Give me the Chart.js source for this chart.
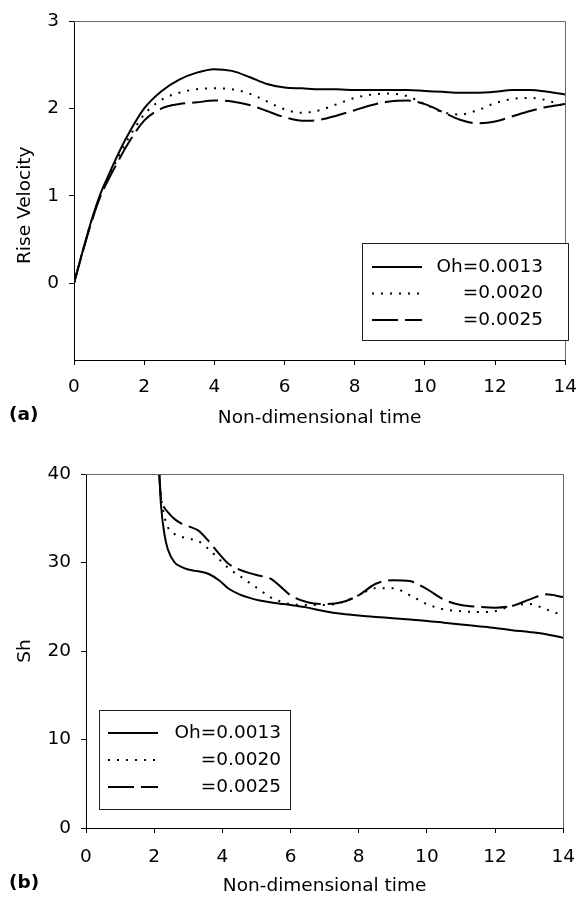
<!DOCTYPE html>
<html>
<head>
<meta charset="utf-8">
<script src="https://cdn.jsdelivr.net/npm/chart.js@4/dist/chart.umd.min.js"></script>
<style>
  html, body { margin: 0; padding: 0; background: #fff; }
  body { width: 588px; height: 898px; position: relative; overflow: hidden; }
  .panel { position: absolute; left: 0; width: 588px; }
  #wrapA { top: 0; height: 437px; }
  #wrapB { top: 437px; height: 461px; }
</style>
</head>
<body>
<div class="panel" id="wrapA"><canvas id="riseChart" width="588" height="437"></canvas></div>
<div class="panel" id="wrapB"><canvas id="shChart" width="588" height="461"></canvas></div>
<script>
// (a) rise velocity vs non-dimensional time
const timeA = [0, 0.25, 0.5, 0.75, 1, 1.25, 1.5, 2, 2.5, 3, 3.5, 4, 4.5, 5, 5.5, 6, 6.5, 7, 7.5, 8, 8.5, 9, 9.5, 10, 10.5, 11, 11.5, 12, 12.5, 13, 13.5, 14];
const riseOh13 = [0, 0.37, 0.72, 1.02, 1.25, 1.47, 1.67, 2.0, 2.2, 2.33, 2.41, 2.45, 2.43, 2.36, 2.28, 2.24, 2.23, 2.22, 2.22, 2.21, 2.21, 2.21, 2.21, 2.2, 2.19, 2.18, 2.18, 2.19, 2.21, 2.21, 2.19, 2.16];
const riseOh20 = [0, 0.37, 0.72, 1.01, 1.23, 1.43, 1.62, 1.93, 2.1, 2.18, 2.22, 2.23, 2.22, 2.17, 2.08, 1.99, 1.95, 1.98, 2.05, 2.12, 2.16, 2.17, 2.14, 2.05, 1.96, 1.93, 1.98, 2.06, 2.11, 2.12, 2.09, 2.02];
const riseOh25 = [0, 0.36, 0.7, 0.99, 1.2, 1.39, 1.57, 1.86, 2.0, 2.05, 2.07, 2.09, 2.08, 2.04, 1.97, 1.9, 1.86, 1.87, 1.92, 1.98, 2.04, 2.08, 2.09, 2.05, 1.96, 1.87, 1.83, 1.85, 1.91, 1.97, 2.02, 2.05];

// (b) Sherwood number vs non-dimensional time
const timeB = [2.15, 2.2, 2.3, 2.4, 2.6, 2.8, 3.0, 3.3, 3.6, 3.9, 4.2, 4.5, 4.8, 5.1, 5.4, 5.7, 6, 6.5, 7, 7.5, 8, 8.5, 9, 9.5, 10, 10.5, 11, 11.5, 12, 12.5, 13, 13.5, 14];
const shOh13 = [40, 36.5, 33.2, 31.5, 30.0, 29.5, 29.2, 29.0, 28.7, 28.0, 27.0, 26.4, 26.0, 25.7, 25.5, 25.35, 25.2, 24.9, 24.5, 24.2, 24.0, 23.85, 23.7, 23.55, 23.4, 23.2, 23.0, 22.8, 22.6, 22.35, 22.15, 21.9, 21.5];
const shOh20 = [40, 37.5, 35.2, 34.0, 33.2, 32.9, 32.7, 32.4, 31.5, 30.4, 29.3, 28.5, 27.7, 26.9, 26.1, 25.6, 25.3, 25.2, 25.2, 25.5, 26.3, 27.1, 27.1, 26.3, 25.3, 24.7, 24.5, 24.4, 24.5, 25.1, 25.3, 24.7, 24.0];
const shOh25 = [40, 37.2, 36.2, 35.7, 34.9, 34.4, 34.1, 33.6, 32.4, 31.0, 29.8, 29.2, 28.8, 28.5, 28.2, 27.3, 26.3, 25.5, 25.3, 25.5, 26.3, 27.6, 28.0, 27.9, 27.0, 25.8, 25.2, 25.0, 24.9, 25.1, 25.8, 26.4, 26.1];

const seriesLabels = ['Oh=0.0013', '=0.0020', '=0.0025'];
const xTicks = [0, 2, 4, 6, 8, 10, 12, 14];
const riseTicks = [0, 1, 2, 3];
const shTicks = [0, 10, 20, 30, 40];

const FONT = '"DejaVu Sans", sans-serif';
const FS = 18.5;

const lineStyles = [
  { borderDash: [] },
  { borderDash: [2, 7] },
  { borderDash: [26, 7] }
];

function toPoints(xs, ys) {
  return xs.map((x, i) => ({ x: x, y: ys[i] }));
}

function makeDatasets(xs, seriesList) {
  return seriesList.map((ys, i) => ({
    label: seriesLabels[i],
    data: toPoints(xs, ys),
    borderColor: '#000',
    borderWidth: 2,
    borderDash: lineStyles[i].borderDash,
    pointRadius: 0,
    fill: false,
    cubicInterpolationMode: 'monotone'
  }));
}

// plot frame, boxed legend and panel letter
const decorations = {
  id: 'decorations',
  afterDraw(chart, args, opts) {
    const { ctx, chartArea: a } = chart;
    ctx.save();
    ctx.strokeStyle = '#666';
    ctx.lineWidth = 1;
    ctx.beginPath();
    ctx.moveTo(a.left, Math.round(a.top) + 0.5);
    ctx.lineTo(Math.round(a.right) + 0.5, Math.round(a.top) + 0.5);
    ctx.lineTo(Math.round(a.right) + 0.5, a.bottom);
    ctx.stroke();

    const b = opts.box;
    ctx.fillStyle = '#fff';
    ctx.fillRect(b.x, b.y, b.w, b.h);
    ctx.strokeStyle = '#222';
    ctx.strokeRect(b.x + 0.5, b.y + 0.5, b.w, b.h);
    chart.data.datasets.forEach((ds, i) => {
      const y = b.y + b.row0 + i * b.rowGap;
      ctx.strokeStyle = ds.borderColor;
      ctx.lineWidth = ds.borderWidth;
      ctx.setLineDash(ds.borderDash);
      ctx.beginPath();
      ctx.moveTo(b.x + b.sampleX, y);
      ctx.lineTo(b.x + b.sampleX + 50, y);
      ctx.stroke();
      ctx.setLineDash([]);
      ctx.fillStyle = '#000';
      ctx.font = FS + 'px ' + FONT;
      ctx.textAlign = 'right';
      ctx.textBaseline = 'middle';
      ctx.fillText(ds.label, b.x + b.textRight, y);
    });

    ctx.font = 'bold ' + FS + 'px ' + FONT;
    ctx.textAlign = 'left';
    ctx.textBaseline = 'middle';
    ctx.fillStyle = '#000';
    ctx.fillText(opts.letter, 9, opts.letterY);
    ctx.restore();
  }
};

function axisCommon() {
  return {
    grid: { display: true, drawOnChartArea: false, drawTicks: true, tickLength: 5, color: '#000' },
    border: { display: true, color: '#000', width: 1 },
    ticks: { color: '#000', font: { family: FONT, size: FS } }
  };
}

function makeChart(canvasId, datasets, cfg) {
  const xAxis = axisCommon();
  xAxis.type = 'linear';
  xAxis.min = 0;
  xAxis.max = 14;
  xAxis.ticks.padding = cfg.xTickPad;
  xAxis.ticks.maxRotation = 0;
  xAxis.afterBuildTicks = s => { s.ticks = xTicks.map(v => ({ value: v })); };
  xAxis.afterFit = s => { s.height = 70; };
  xAxis.title = { display: true, text: 'Non-dimensional time', color: '#000',
    font: { family: FONT, size: FS }, padding: { top: 0, bottom: 1 } };

  const yAxis = axisCommon();
  yAxis.min = cfg.yMin;
  yAxis.max = cfg.yMax;
  yAxis.ticks.padding = 10;
  yAxis.afterBuildTicks = s => { s.ticks = cfg.yTicks.map(v => ({ value: v })); };
  yAxis.afterFit = s => { s.width = cfg.yWidth; };
  yAxis.title = { display: true, text: cfg.yTitle, color: '#000',
    font: { family: FONT, size: FS }, padding: { top: 14, bottom: 0 } };

  return new Chart(document.getElementById(canvasId), {
    type: 'line',
    data: { datasets: datasets },
    options: {
      responsive: false,
      animation: false,
      devicePixelRatio: 1,
      layout: { padding: cfg.padding },
      scales: { x: xAxis, y: yAxis },
      plugins: {
        legend: { display: false },
        tooltip: { enabled: false },
        decorations: { box: cfg.legendBox, letter: cfg.letter, letterY: cfg.letterY }
      }
    },
    plugins: [decorations]
  });
}

// trailing blanks nudge the rotated title down towards the "1" tick
makeChart('riseChart', makeDatasets(timeA, [riseOh13, riseOh20, riseOh25]), {
  yMin: -0.88, yMax: 3, yTicks: riseTicks, yWidth: 74, yTitle: 'Rise Velocity     ',
  xTickPad: 11,
  padding: { left: 0, right: 14, top: 16, bottom: 7 },
  legendBox: { x: 362, y: 243, w: 206, h: 97, row0: 24, rowGap: 26.5, sampleX: 10, textRight: 181 },
  letter: '(a)', letterY: 415
});

makeChart('shChart', makeDatasets(timeB, [shOh13, shOh20, shOh25]), {
  yMin: 0, yMax: 40, yTicks: shTicks, yWidth: 86, yTitle: 'Sh',
  xTickPad: 13,
  padding: { left: 0, right: 14, top: 37, bottom: 0 },
  legendBox: { x: 99, y: 273, w: 191, h: 99, row0: 23, rowGap: 27, sampleX: 9, textRight: 182 },
  letter: '(b)', letterY: 446
});
</script>
</body>
</html>
